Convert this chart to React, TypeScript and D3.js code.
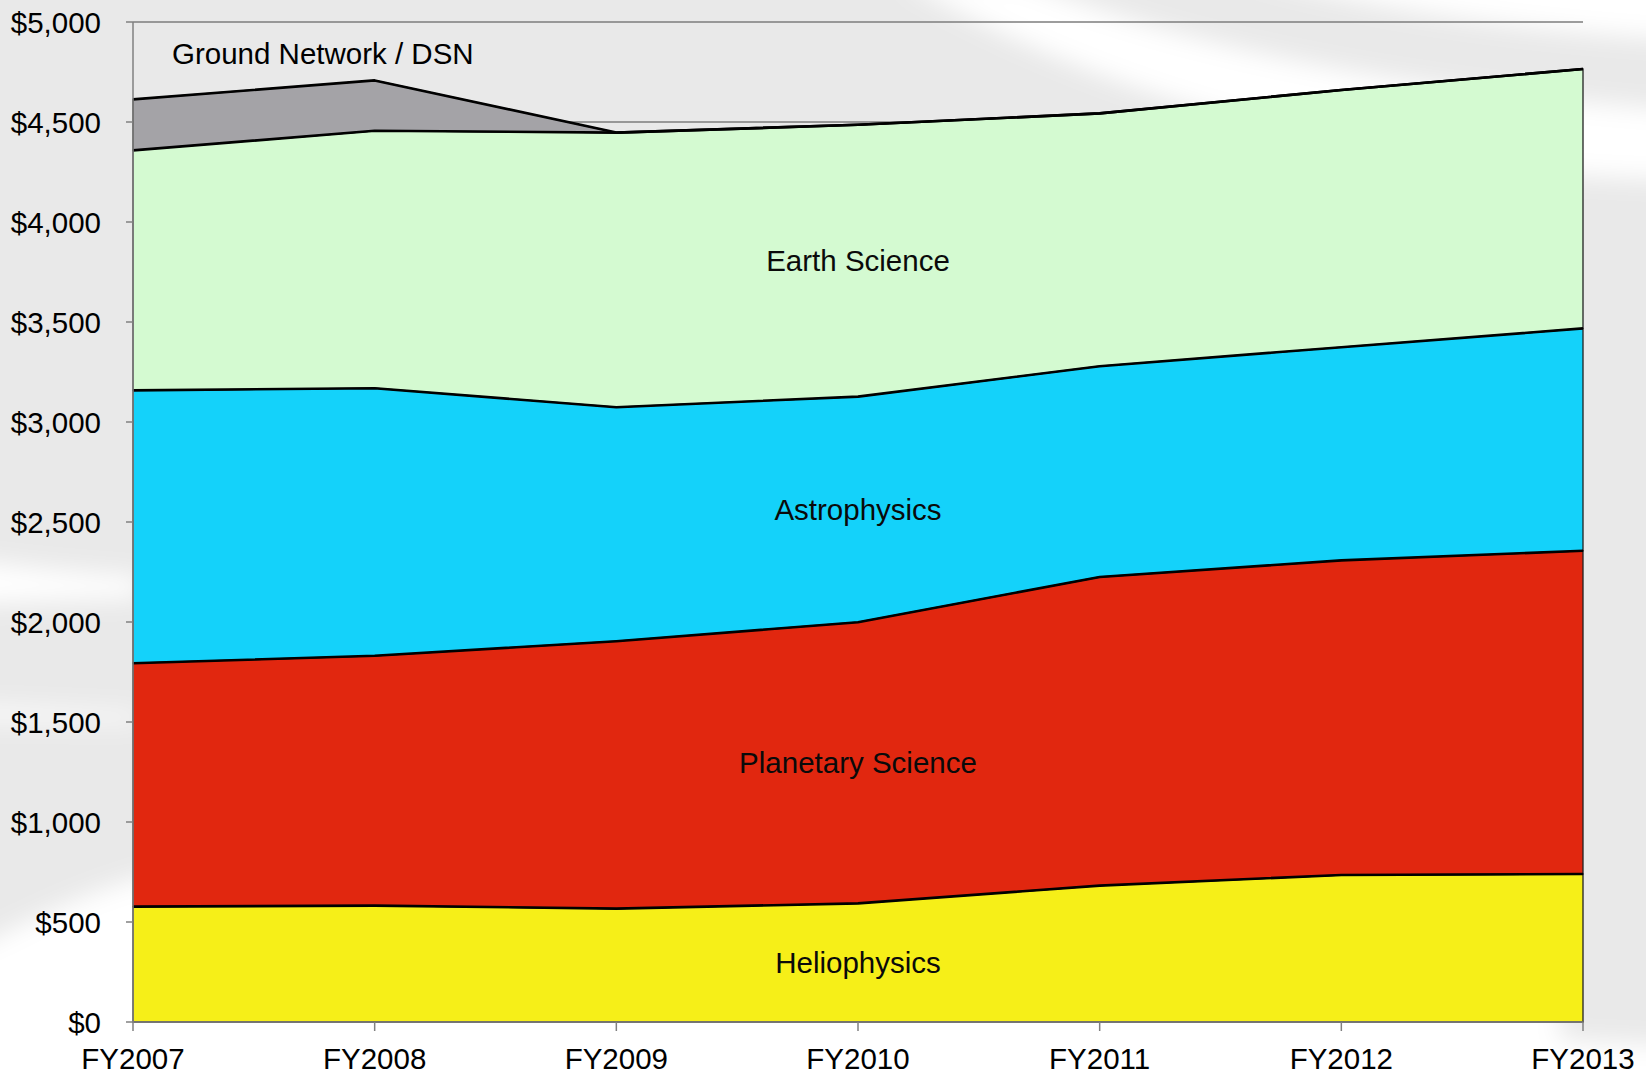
import React from "react";
import * as d3 from "d3";

const years = ["FY2007", "FY2008", "FY2009", "FY2010", "FY2011", "FY2012", "FY2013"];
const heliophysics = [577, 582, 567, 593, 682, 735, 740];
const planetaryScience = [1217, 1249, 1337, 1406, 1543, 1573, 1616];
const astrophysics = [1364, 1338, 1170, 1128, 1054, 1066, 1112];
const earthScience = [1200, 1287, 1373, 1359, 1264, 1286, 1297];
const groundNetwork = [255, 252, 0, 0, 0, 0, 0];

const seriesKeys = ["helio", "planetary", "astro", "earth", "ground"];
const seriesNames = ["Heliophysics", "Planetary Science", "Astrophysics", "Earth Science", "Ground Network / DSN"];
const seriesColors = ["#f6ef18", "#e1270f", "#14d2fa", "#d4fad1", "#a4a3a7"];
const yTickValues = [0, 500, 1000, 1500, 2000, 2500, 3000, 3500, 4000, 4500, 5000];

const W = 1646;
const H = 1078;
const FONT = "'Liberation Sans', Arial, Helvetica, sans-serif";

export default function App() {
  const x = d3.scalePoint<string>().domain(years).range([133, 1583]);
  const y = d3.scaleLinear().domain([0, 5000]).range([1022, 22]);

  const rows = years.map((yr, i) => ({
    year: yr,
    helio: heliophysics[i],
    planetary: planetaryScience[i],
    astro: astrophysics[i],
    earth: earthScience[i],
    ground: groundNetwork[i],
  }));
  const stacked = d3.stack<any>().keys(seriesKeys)(rows);

  const area = d3
    .area<any>()
    .x((d) => x(d.data.year) as number)
    .y0((d) => y(d[0]))
    .y1((d) => y(d[1]));
  const topLine = d3
    .line<any>()
    .x((d) => x(d.data.year) as number)
    .y((d) => y(d[1]));

  const fmt = (v: number) => "$" + d3.format(",")(v);
  const labelIdx = 3;

  return (
    <svg
      width={W}
      height={H}
      viewBox={`0 0 ${W} ${H}`}
      style={{ position: "absolute", left: 0, top: 0, display: "block" }}
    >
      <defs>
        <filter id="soft" x="-10%" y="-10%" width="120%" height="120%">
          <feGaussianBlur stdDeviation="12" />
        </filter>
      </defs>
      {/* background swooshes */}
      <rect x={0} y={0} width={W} height={H} fill="#e9e9e9" />
      <g filter="url(#soft)" fill="#ffffff">
        <path d="M 900 -20 L 1020 -20 Q 1260 80 1680 110 L 1680 180 Q 1230 170 900 -20 Z" />
        <path d="M 1230 -30 L 1680 -30 L 1680 40 Q 1420 25 1230 -30 Z" />
        <path d="M -30 560 Q 60 572 140 576 L 140 598 Q 60 600 -30 604 Z" />
        <path d="M -30 706 Q 60 710 140 713 L 140 722 Q 60 722 -30 720 Z" />
        <path d="M -30 950 C 40 915 100 885 170 870 L 1560 870 L 1560 1040 L 1680 1045 L 1680 1110 L -30 1110 Z" />
      </g>

      {/* gridlines */}
      {yTickValues
        .filter((v) => v > 0)
        .map((v) => (
          <line key={"g" + v} x1={133} x2={1583} y1={y(v)} y2={y(v)} stroke="#7d7d7d" strokeWidth={1.5} />
        ))}

      {/* areas */}
      {stacked.map((s, i) => (
        <path key={"a" + i} d={area(s) || ""} fill={seriesColors[i]} stroke="#222" strokeWidth={1.3} />
      ))}
      {stacked.map((s, i) => (
        <path key={"l" + i} d={topLine(s) || ""} fill="none" stroke="#000" strokeWidth={2.6} strokeLinejoin="round" />
      ))}

      {/* axes */}
      <line x1={133} x2={133} y1={22} y2={1022} stroke="#808080" strokeWidth={1.5} />
      <line x1={133} x2={1583} y1={1022} y2={1022} stroke="#808080" strokeWidth={1.5} />
      {yTickValues.map((v) => (
        <g key={"yt" + v}>
          <line x1={126} x2={133} y1={y(v)} y2={y(v)} stroke="#808080" strokeWidth={1.5} />
          <text x={101} y={y(v)} textAnchor="end" dominantBaseline="central" fontFamily={FONT} fontSize={29.5} fill="#000">
            {fmt(v)}
          </text>
        </g>
      ))}
      {years.map((yr) => (
        <g key={"xt" + yr}>
          <line x1={x(yr)} x2={x(yr)} y1={1022} y2={1031} stroke="#808080" strokeWidth={1.5} />
          <text x={x(yr)} y={1069} textAnchor="middle" fontFamily={FONT} fontSize={29.5} fill="#000">
            {yr}
          </text>
        </g>
      ))}

      {/* series labels */}
      {stacked.slice(0, 4).map((s, i) => {
        const d = s[labelIdx];
        return (
          <text
            key={"sl" + i}
            x={x(years[labelIdx])}
            y={y((d[0] + d[1]) / 2)}
            textAnchor="middle"
            dominantBaseline="central"
            fontFamily={FONT}
            fontSize={29.5}
            fill="#0a0a0a"
          >
            {seriesNames[i]}
          </text>
        );
      })}
      <text x={172} y={53} dominantBaseline="central" fontFamily={FONT} fontSize={29.5} fill="#000">
        {seriesNames[4]}
      </text>
    </svg>
  );
}
